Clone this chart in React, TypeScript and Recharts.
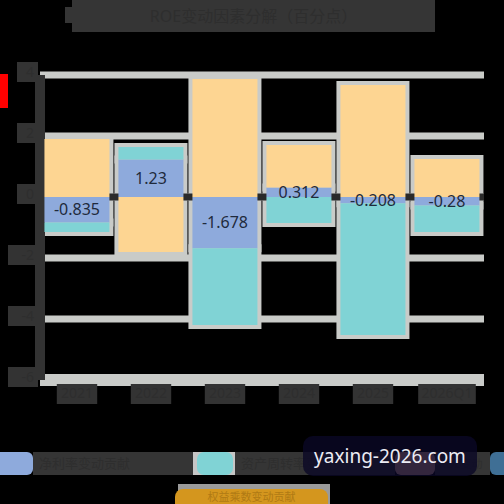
import React from "react"
import {
  Bar,
  BarChart,
  CartesianGrid,
  LabelList,
  ReferenceLine,
  XAxis,
  YAxis,
} from "recharts"

const periods = ["2021", "2022", "2023", "2024", "2025", "2026Q1"]
const marginEffect = [-0.835, 1.23, -1.678, 0.312, -0.208, -0.28]
const turnoverEffect = [-0.31, 0.41, -2.52, -0.85, -4.32, -0.87]
const leverageEffect = [1.9, -1.8, 3.87, 1.39, 3.67, 1.25]
const yTicks = [-6, -4, -2, 0, 2, 4]

const seriesNames = ["净利率变动贡献", "资产周转率变动贡献", "权益乘数变动贡献"]
const extraLegend = ["ROE变动"]

const data = periods.map((p, i) => ({
  period: p,
  margin: marginEffect[i],
  turnover: turnoverEffect[i],
  leverage: leverageEffect[i],
}))

const BLUE = "#8eaadc"
const TEAL = "#80d3d5"
const PEACH = "#fdd592"
const GRID = "#c9cbc8"
const BOX = "#353535"
const INK = "#2e2e2e"
const FONT = '"Noto Sans", "Noto Sans CJK SC", sans-serif'

const W = 504
const H = 504

function XTick({ x, y, payload }: any) {
  const label = String(payload.value)
  const w = label.length * 8.6 + 6
  return (
    <g transform={`translate(${x},${y})`}>
      <rect x={-w / 2} y={2} width={w} height={20} fill="#333" />
      <text x={0} y={16} textAnchor="middle" fill={INK} fontSize={14}>
        {label}
      </text>
    </g>
  )
}

function YTick({ x, y, payload }: any) {
  const label = String(payload.value)
  const w = label.length * 9 + 12
  return (
    <g>
      <rect x={x - w} y={y - 13} width={w} height={20} fill="#333" />
      <text x={x - 4} y={y + 2} textAnchor="end" fill={INK} fontSize={14}>
        {label}
      </text>
    </g>
  )
}

export default function App() {
  const common = {
    width: W,
    height: H,
    data,
    stackOffset: "sign" as const,
    barCategoryGap: "6%",
  }
  const outline = { stroke: GRID, strokeWidth: 8 }

  return (
    <div
      style={{
        position: "fixed",
        left: 0,
        top: 0,
        width: W,
        height: H,
        background: "#000",
        overflow: "hidden",
        fontFamily: FONT,
      }}
    >
      {/* back layer: grid, axes and outlined bars */}
      <div style={{ position: "absolute", left: 0, top: 0 }}>
        <BarChart {...common} margin={{ top: 75, right: 20, left: 0, bottom: 94 }}>
          <CartesianGrid
            vertical={false}
            stroke={GRID}
            strokeWidth={7}
            horizontalValues={yTicks.filter((v) => v !== 0)}
          />
          <XAxis
            dataKey="period"
            height={30}
            tickSize={0}
            axisLine={{ stroke: GRID, strokeWidth: 12 }}
            tickLine={false}
            tick={<XTick />}
            interval={0}
          />
          <YAxis
            type="number"
            domain={[-6, 4]}
            ticks={yTicks}
            width={40}
            tickSize={0}
            tickLine={false}
            axisLine={{ stroke: "#333", strokeWidth: 10 }}
            tick={<YTick />}
          />
          <Bar dataKey="margin" stackId="a" fill={BLUE} {...outline} isAnimationActive={false} />
          <Bar dataKey="turnover" stackId="a" fill={TEAL} {...outline} isAnimationActive={false} />
          <Bar dataKey="leverage" stackId="a" fill={PEACH} {...outline} isAnimationActive={false} />
          <ReferenceLine y={0} stroke="#2a2a2a" strokeWidth={7} />
        </BarChart>
      </div>

      {/* front layer: clean fills and value labels */}
      <div style={{ position: "absolute", left: 0, top: 0 }}>
        <BarChart {...common} margin={{ top: 75, right: 20, left: 40, bottom: 124 }}>
          <XAxis dataKey="period" hide />
          <YAxis type="number" domain={[-6, 4]} ticks={yTicks} hide />
          <Bar dataKey="margin" stackId="a" fill={BLUE} isAnimationActive={false}>
            <LabelList
              dataKey="margin"
              position="center"
              fill="#1f2a3c"
              fontSize={16}
              fontFamily={FONT}
            />
          </Bar>
          <Bar dataKey="turnover" stackId="a" fill={TEAL} isAnimationActive={false} />
          <Bar dataKey="leverage" stackId="a" fill={PEACH} isAnimationActive={false} />
        </BarChart>
      </div>

      {/* title */}
      <div style={{ position: "absolute", left: 65, top: 7, width: 8, height: 16, background: BOX }} />
      <div
        style={{
          position: "absolute",
          left: 72,
          top: 0,
          width: 363,
          height: 32,
          background: BOX,
          color: INK,
          fontSize: 16,
          lineHeight: "32px",
          textAlign: "center",
        }}
      >
        ROE变动因素分解（百分点）
      </div>

      {/* red y label mark */}
      <div style={{ position: "absolute", left: 0, top: 74, width: 8, height: 34, background: "#f00" }} />

      {/* legend row 1 */}
      <div
        style={{
          position: "absolute",
          left: 0,
          top: 452,
          width: W,
          height: 23,
          display: "flex",
          overflow: "hidden",
          fontSize: 13,
          lineHeight: "23px",
          color: INK,
        }}
      >
        <div style={{ width: 33, background: BLUE, borderRadius: "0 6px 6px 0", flex: "none" }} />
        <div style={{ width: 160, background: BOX, paddingLeft: 6, boxSizing: "border-box", flex: "none" }}>
          {seriesNames[0]}
        </div>
        <div style={{ width: 42, background: "#c6c6c6", flex: "none", display: "flex" }}>
          <div style={{ marginLeft: 4, width: 36, background: TEAL, borderRadius: 7 }} />
        </div>
        <div style={{ width: 160, background: BOX, paddingLeft: 6, boxSizing: "border-box", flex: "none" }}>
          {seriesNames[1]}
        </div>
        <div style={{ width: 40, background: "#d8a09c", borderRadius: 6, flex: "none" }} />
        <div
          style={{
            width: 55,
            background: BOX,
            paddingLeft: 4,
            boxSizing: "border-box",
            flex: "none",
            fontSize: 11,
          }}
        >
          {extraLegend[0]}
        </div>
        <div style={{ width: 40, background: "#3f6f95", borderRadius: 6, flex: "none" }} />
      </div>

      {/* legend row 2 */}
      <div style={{ position: "absolute", left: 178, top: 484, width: 152, height: 20, background: "#9a9a9a" }} />
      <div
        style={{
          position: "absolute",
          left: 175,
          top: 489,
          width: 153,
          height: 15,
          background: "#d4961e",
          borderRadius: "8px 8px 0 0",
          fontSize: 11,
          lineHeight: "15px",
          color: "#b07a14",
          textAlign: "center",
        }}
      >
        {seriesNames[2]}
      </div>

      {/* watermark */}
      <div
        style={{
          position: "absolute",
          left: 303,
          top: 436,
          width: 174,
          height: 40,
          borderRadius: 10,
          background: "rgba(10, 8, 38, 0.8)",
          color: "#ececf4",
          fontSize: 19,
          lineHeight: "40px",
          textAlign: "center",
          fontFamily: '"Noto Sans", sans-serif',
        }}
      >
        yaxing-2026.com
      </div>
    </div>
  )
}
